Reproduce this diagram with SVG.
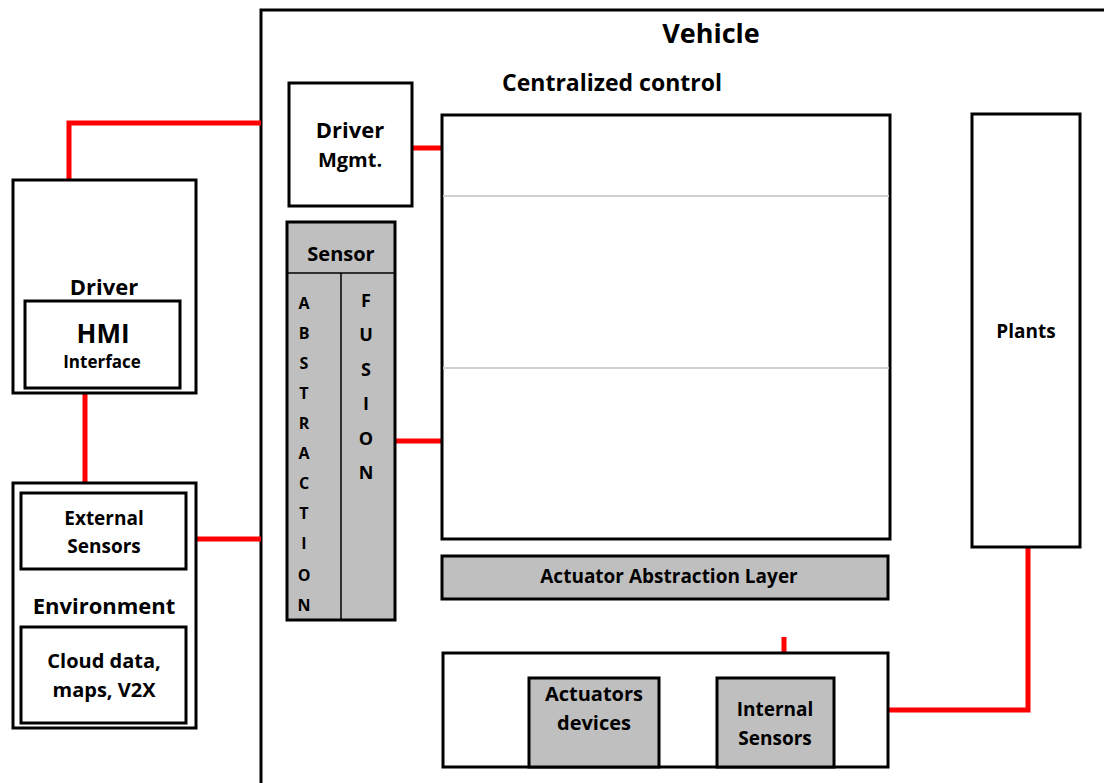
<svg xmlns="http://www.w3.org/2000/svg" width="1104" height="783" viewBox="0 0 1104 783">
<style>
.box{fill:#fff;stroke:#000;stroke-width:3}
.gbox{fill:#bfbfbf;stroke:#000;stroke-width:3}
.wire{fill:none;stroke:#f00;stroke-width:5}
.sep{stroke:#d0d0d0;stroke-width:2}
text{font-family:"Open Sans","Liberation Sans",sans-serif;font-weight:bold;fill:#000;text-anchor:middle}
.t27{font-size:27px}.t23{font-size:23px}.t22{font-size:22px}.t26{font-size:26px}.t20{font-size:20px}.t19{font-size:19px}.t17{font-size:17px}.tv1{font-size:16px}.tv2{font-size:18px}
</style>
<rect width="1104" height="783" fill="#fff"/>
<g id="vehicle">
<rect class="box" x="261" y="10" width="900" height="800"/>
<text class="t27" x="711" y="43">Vehicle</text>
<text class="t23" x="612" y="91">Centralized control</text>
</g>
<g id="connectors">
<polyline class="wire" points="69,180 69,123 261,123"/>
<line class="wire" x1="85" y1="393" x2="85" y2="483"/>
<line class="wire" x1="196" y1="539" x2="261" y2="539"/>
<line class="wire" x1="412" y1="148" x2="442" y2="148"/>
<line class="wire" x1="395" y1="441" x2="442" y2="441"/>
<line class="wire" x1="784" y1="637" x2="784" y2="653"/>
<polyline class="wire" points="888,710 1028,710 1028,547"/>
</g>
<g id="driver">
<rect class="box" x="13" y="180" width="183" height="213"/>
<text class="t22" x="104" y="295">Driver</text>
<rect class="box" x="25" y="301" width="155" height="87"/>
<text class="t26" x="103" y="343">HMI</text>
<text class="t17" x="102" y="368">Interface</text>
</g>
<g id="environment">
<rect class="box" x="13" y="483" width="183" height="245"/>
<rect class="box" x="21" y="493" width="165" height="76"/>
<text class="t19" x="104" y="525">External</text>
<text class="t19" x="104" y="553">Sensors</text>
<text class="t22" x="104" y="614">Environment</text>
<rect class="box" x="21" y="627" width="165" height="96"/>
<text class="t20" x="104" y="668">Cloud data,</text>
<text class="t20" x="104" y="697">maps, V2X</text>
</g>
<g id="driver-mgmt">
<rect class="box" x="289" y="83" width="123" height="123"/>
<text class="t22" x="350" y="138">Driver</text>
<text class="t20" x="350" y="167">Mgmt.</text>
</g>
<g id="sensor">
<rect class="gbox" x="287" y="222" width="108" height="398"/>
<line x1="287" y1="273" x2="395" y2="273" stroke="#000" stroke-width="1.5"/>
<line x1="341" y1="273" x2="341" y2="620" stroke="#000" stroke-width="1.5"/>
<text class="t20" x="341" y="261">Sensor</text>
<g class="tv1">
<text x="304" y="309">A</text><text x="304" y="339">B</text><text x="304" y="369">S</text><text x="304" y="399">T</text><text x="304" y="429">R</text><text x="304" y="459">A</text><text x="304" y="489">C</text><text x="304" y="519">T</text><text x="304" y="549">I</text><text x="304" y="581">O</text><text x="304" y="611">N</text>
</g>
<g class="tv2">
<text x="366" y="307">F</text><text x="366" y="341">U</text><text x="366" y="376">S</text><text x="366" y="410">I</text><text x="366" y="445">O</text><text x="366" y="479">N</text>
</g>
</g>
<g id="central-control">
<rect class="box" x="442" y="115" width="448" height="424"/>
<line class="sep" x1="443" y1="196" x2="889" y2="196"/>
<line class="sep" x1="443" y1="368" x2="889" y2="368"/>
</g>
<g id="actuator-abstraction">
<rect class="gbox" x="442" y="556" width="446" height="43"/>
<text class="t19" x="669" y="583">Actuator Abstraction Layer</text>
</g>
<g id="plants">
<rect class="box" x="972" y="114" width="108" height="433"/>
<text class="t19" x="1026" y="338">Plants</text>
</g>
<g id="physical">
<rect class="box" x="443" y="653" width="445" height="114"/>
<rect class="gbox" x="529" y="678" width="130" height="89"/>
<text class="t20" x="594" y="701">Actuators</text>
<text class="t20" x="594" y="730">devices</text>
<rect class="gbox" x="717" y="678" width="117" height="89"/>
<text class="t19" x="775" y="716">Internal</text>
<text class="t19" x="775" y="745">Sensors</text>
</g>
</svg>
